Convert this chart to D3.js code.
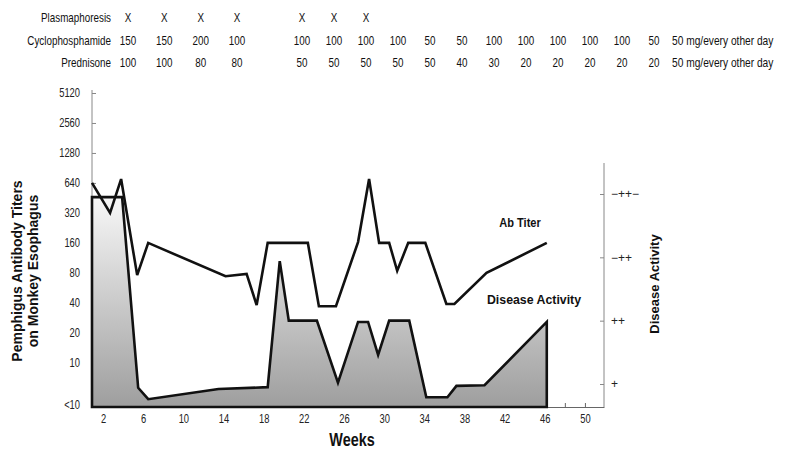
<!DOCTYPE html>
<html>
<head>
<meta charset="utf-8">
<script src="https://cdn.jsdelivr.net/npm/d3@7"></script>
<style>
  body { margin: 0; background: #fff; }
  svg { display: block; font-family: "Liberation Sans", Arial, sans-serif; }
</style>
</head>
<body>
<div id="chart"></div>
<script>
// treatment table (two groups of columns, gap between them)
const rowLabels = ["Plasmaphoresis", "Cyclophosphamide", "Prednisone"];
const plasmaA = ["X", "X", "X", "X"];
const plasmaB = ["X", "X", "X", "", "", "", "", "", "", "", "", ""];
const cycloA = [150, 150, 200, 100];
const cycloB = [100, 100, 100, 100, 50, 50, 100, 100, 100, 100, 100, 50];
const predA = [100, 100, 80, 80];
const predB = [50, 50, 50, 50, 50, 40, 30, 20, 20, 20, 20, 20];
const tailNote = ["", "50 mg/every other day", "50 mg/every other day"];

// Ab titer (left log axis)
const abWeeks = [0.9, 2.7, 3.8, 5.4, 6.5, 14.2, 16.3, 17.3, 18.4, 22.4, 23.5, 25.2, 27.4, 28.5, 29.5, 30.5, 31.3, 32.4, 34.1, 36.2, 37.0, 40.2, 46.2];
const abTiter = [640, 320, 700, 76, 160, 74, 78, 38, 160, 160, 37, 37, 163, 700, 160, 160, 84, 160, 160, 39, 39, 80, 160];

// disease activity (right axis, 1 = "+", 4 = "−++−")
const daWeeks = [0.9, 3.9, 5.5, 6.5, 13.5, 18.4, 19.6, 20.5, 23.3, 25.4, 27.4, 28.4, 29.4, 30.5, 32.5, 34.2, 36.3, 37.2, 40.0, 46.2];
const daLevel = [3.95, 3.95, 0.94, 0.76, 0.92, 0.95, 2.94, 2.0, 2.0, 1.02, 1.98, 1.98, 1.46, 2.0, 2.0, 0.79, 0.79, 0.97, 0.98, 1.98];

const titerTicks = [3.8, 10, 20, 40, 80, 160, 320, 640, 1280, 2560, 5120];
const weekLabels = [2, 6, 10, 14, 18, 22, 26, 30, 34, 38, 42, 46, 50];
const weekTicks = d3.range(2, 51, 2);
const activityTicks = [1, 2, 3, 4];
const activityLabels = ["+", "++", "\u2212++", "\u2212++\u2212"];

const width = 785, height = 456;

const svg = d3.select("#chart").append("svg")
    .attr("width", width)
    .attr("height", height);

const x = d3.scaleLinear().domain([0.9, 51.9]).range([92, 604]);
const y = d3.scaleLog().base(2).domain([3.6, 5120]).range([407, 93]);
const y2 = d3.scaleLinear().domain([1, 4]).range([384, 194]);

// no narrow font installed: squeeze text horizontally instead
function narrowText(g, px, py, str, sx) {
    return g.append("text")
        .attr("transform", `translate(${px},${py}) scale(${sx},1)`)
        .text(str);
}

// ---- table on top
const colA = d3.scalePoint().domain(d3.range(4)).range([128, 237]);
const colB = d3.scalePoint().domain(d3.range(12)).range([302, 654]);
const rowY = [22, 45, 67];
const rows = [[plasmaA, plasmaB], [cycloA, cycloB], [predA, predB]];
const sq = 0.82;

const table = svg.append("g").attr("font-size", 12).attr("fill", "#111");
rows.forEach((r, i) => {
    narrowText(table, 111, rowY[i], rowLabels[i], sq).attr("text-anchor", "end");
    r[0].forEach((d, j) => {
        narrowText(table, colA(j), rowY[i], d, sq).attr("text-anchor", "middle");
    });
    r[1].forEach((d, j) => {
        narrowText(table, colB(j), rowY[i], d, sq).attr("text-anchor", "middle");
    });
    narrowText(table, 672, rowY[i], tailNote[i], 0.85);
});

// ---- axes
const leftAxis = svg.append("g")
    .attr("transform", "translate(92,0)")
    .call(d3.axisLeft(y)
        .tickValues(titerTicks)
        .tickFormat(d => d < 10 ? "<10" : d)
        .tickSizeInner(-4).tickSizeOuter(0).tickPadding(12));
leftAxis.select(".domain").attr("stroke", "#888").attr("d", "M0,90V407");
leftAxis.selectAll(".tick line").attr("stroke", "#888");
leftAxis.selectAll(".tick text")
    .attr("font-size", 12).attr("fill", "#222")
    .attr("x", -12 / 0.78)
    .attr("transform", "scale(0.78,1)");

const bottomTicks = svg.append("g")
    .attr("transform", "translate(0,407)")
    .call(d3.axisBottom(x).tickValues(weekTicks).tickFormat("")
        .tickSizeInner(-4).tickSizeOuter(0));
bottomTicks.select(".domain").attr("stroke", "#666");
bottomTicks.selectAll(".tick line").attr("stroke", "#666");

const bottomLabels = svg.append("g")
    .attr("transform", "translate(0,407)")
    .call(d3.axisBottom(x).tickValues(weekLabels).tickSize(0).tickPadding(7));
bottomLabels.select(".domain").remove();
bottomLabels.selectAll(".tick text")
    .attr("font-size", 12).attr("fill", "#222")
    .attr("transform", "scale(0.78,1)");

const rightAxis = svg.append("g")
    .attr("transform", "translate(604,0)")
    .call(d3.axisRight(y2)
        .tickValues(activityTicks)
        .tickFormat((d, i) => activityLabels[i])
        .tickSizeInner(-4).tickSizeOuter(0).tickPadding(7));
rightAxis.select(".domain").attr("stroke", "#888").attr("d", "M0,163V407");
rightAxis.selectAll(".tick line").attr("stroke", "#888");
rightAxis.selectAll(".tick text").attr("font-size", 12).attr("fill", "#222");

// ---- disease activity area
const grad = svg.append("defs").append("linearGradient")
    .attr("id", "grayfill")
    .attr("gradientUnits", "userSpaceOnUse")
    .attr("x1", 0).attr("x2", 0).attr("y1", 195).attr("y2", 407);
grad.append("stop").attr("offset", 0).attr("stop-color", "#f8f8f8");
grad.append("stop").attr("offset", 1).attr("stop-color", "#9e9e9e");

const daData = daWeeks.map((w, i) => ({ w: w, v: daLevel[i] }));
const area = d3.area()
    .x(d => x(d.w))
    .y0(y.range()[0])
    .y1(d => y2(d.v));

svg.append("path")
    .datum(daData)
    .attr("d", area(daData) + "Z")
    .attr("fill", "url(#grayfill)")
    .attr("stroke", "#111")
    .attr("stroke-width", 2.6)
    .attr("stroke-linejoin", "miter");

// ---- Ab titer line
const abData = abWeeks.map((w, i) => ({ w: w, v: abTiter[i] }));
svg.append("path")
    .datum(abData)
    .attr("d", d3.line().x(d => x(d.w)).y(d => y(d.v)))
    .attr("fill", "none")
    .attr("stroke", "#111")
    .attr("stroke-width", 2.6)
    .attr("stroke-linejoin", "miter");

// ---- labels
const bold = svg.append("g").attr("font-weight", "bold").attr("fill", "#111");
narrowText(bold, 520, 227, "Ab Titer", 0.85)
    .attr("text-anchor", "middle").attr("font-size", 13);
narrowText(bold, 534, 304, "Disease Activity", 0.95)
    .attr("text-anchor", "middle").attr("font-size", 13);
narrowText(bold, 352, 446, "Weeks", 0.8)
    .attr("text-anchor", "middle").attr("font-size", 18);
bold.append("text")
    .attr("transform", "translate(659,284) rotate(-90)")
    .attr("text-anchor", "middle")
    .attr("font-size", 13).text("Disease Activity");
const ytitle = bold.append("text")
    .attr("transform", "translate(22,271) rotate(-90)")
    .attr("text-anchor", "middle")
    .attr("font-size", 14);
ytitle.append("tspan").attr("x", 0).attr("dy", 0).text("Pemphigus Antibody Titers");
ytitle.append("tspan").attr("x", 0).attr("dy", 16).text("on Monkey Esophagus");
</script>
</body>
</html>
